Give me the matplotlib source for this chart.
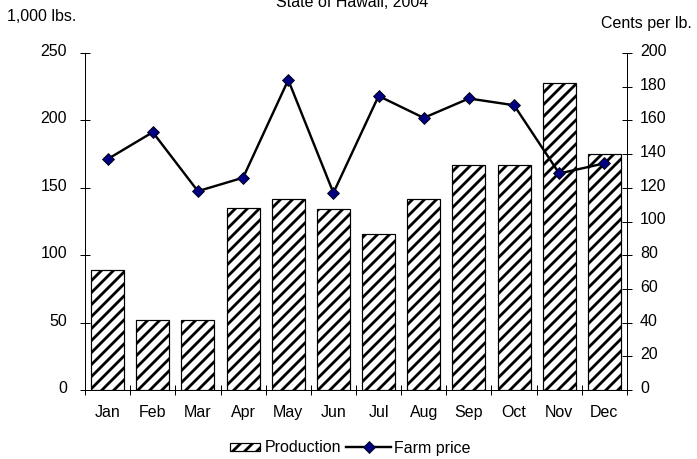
import matplotlib
matplotlib.use("Agg")
import matplotlib.pyplot as plt
import matplotlib.transforms as mtransforms
from matplotlib.patches import Rectangle
from matplotlib.legend_handler import HandlerPatch
import numpy as np

months = ["Jan", "Feb", "Mar", "Apr", "May", "Jun", "Jul", "Aug", "Sep", "Oct", "Nov", "Dec"]
production = [89, 52, 52, 135, 142, 134, 116, 142, 167, 167, 228, 175]
farm_price = [137, 153, 118, 126, 184, 117, 174.5, 161.5, 173, 169, 128.5, 134.5]

plt.rcParams["font.family"] = ["Liberation Sans", "DejaVu Sans"]
plt.rcParams["hatch.linewidth"] = 2.8
plt.rcParams["hatch.color"] = "black"

FS = 16
dpi = 72
fig = plt.figure(figsize=(697 / dpi, 459 / dpi), dpi=dpi)
ax = fig.add_axes([85 / 697, 1 - 390 / 459, (627 - 85) / 697, (390 - 53) / 459])
ax2 = ax.twinx()

x = np.arange(len(months))
bars = ax.bar(x, production, width=0.73, color="white", edgecolor="black",
              hatch="//", linewidth=1.2, label="Production", zorder=2)
ax.set_xlim(-0.5, len(months) - 0.5)
ax.set_ylim(0, 250)
ax.set_yticks(range(0, 251, 50))
ax.set_xticks(x)
ax.set_xticklabels(months)
ax.set_xticks(np.arange(-0.5, len(months), 1), minor=True)
ax.tick_params(axis="x", which="major", length=0, pad=15, labelsize=FS)
ax.tick_params(axis="x", which="minor", length=10, direction="inout", width=1)
ax.tick_params(axis="y", length=10, direction="inout", width=1, labelsize=FS, pad=13)

line, = ax2.plot(x, farm_price, color="black", linewidth=2.4, marker="D",
                 markersize=8.5, markerfacecolor="#000080", markeredgecolor="black",
                 markeredgewidth=0.8, label="Farm price", zorder=3)
ax2.set_ylim(0, 200)
ax2.set_yticks(range(0, 201, 20))
ax2.tick_params(axis="y", length=10, direction="inout", width=1, labelsize=FS, pad=8)

for a in (ax, ax2):
    a.spines["top"].set_visible(False)
    for s in ("left", "right", "bottom"):
        a.spines[s].set_linewidth(1)
ax2.set_zorder(ax.get_zorder() + 1)
ax2.patch.set_visible(False)

# Excel-style: tick labels sit slightly above their ticks
up = mtransforms.ScaledTranslation(0, 3 / 72, fig.dpi_scale_trans)
for lab in ax.get_yticklabels() + ax2.get_yticklabels():
    lab.set_transform(lab.get_transform() + up)

fig.text(352 / 697, 1 - 7 / 459, "State of Hawaii, 2004", ha="center", va="baseline", fontsize=FS)
fig.text(7 / 697, 1 - 21 / 459, "1,000 lbs.", ha="left", va="baseline", fontsize=FS)
fig.text(692 / 697, 1 - 28 / 459, "Cents per lb.", ha="right", va="baseline", fontsize=FS)


def small_rect(legend, orig_handle, xdescent, ydescent, width, height, fontsize):
    return Rectangle((-xdescent + width - 32, -ydescent + (height - 8) / 2), 30, 8)


bar_handle = bars.patches[0]
fig.legend([bar_handle, line], ["Production", "Farm price"], loc="center",
           bbox_to_anchor=(344 / 697, 1 - 448 / 459), ncol=2, frameon=False,
           fontsize=FS, handlelength=2.8, handletextpad=0.2, columnspacing=0.3,
           handler_map={bar_handle: HandlerPatch(patch_func=small_rect)})

fig.savefig("out.png", dpi=dpi)
